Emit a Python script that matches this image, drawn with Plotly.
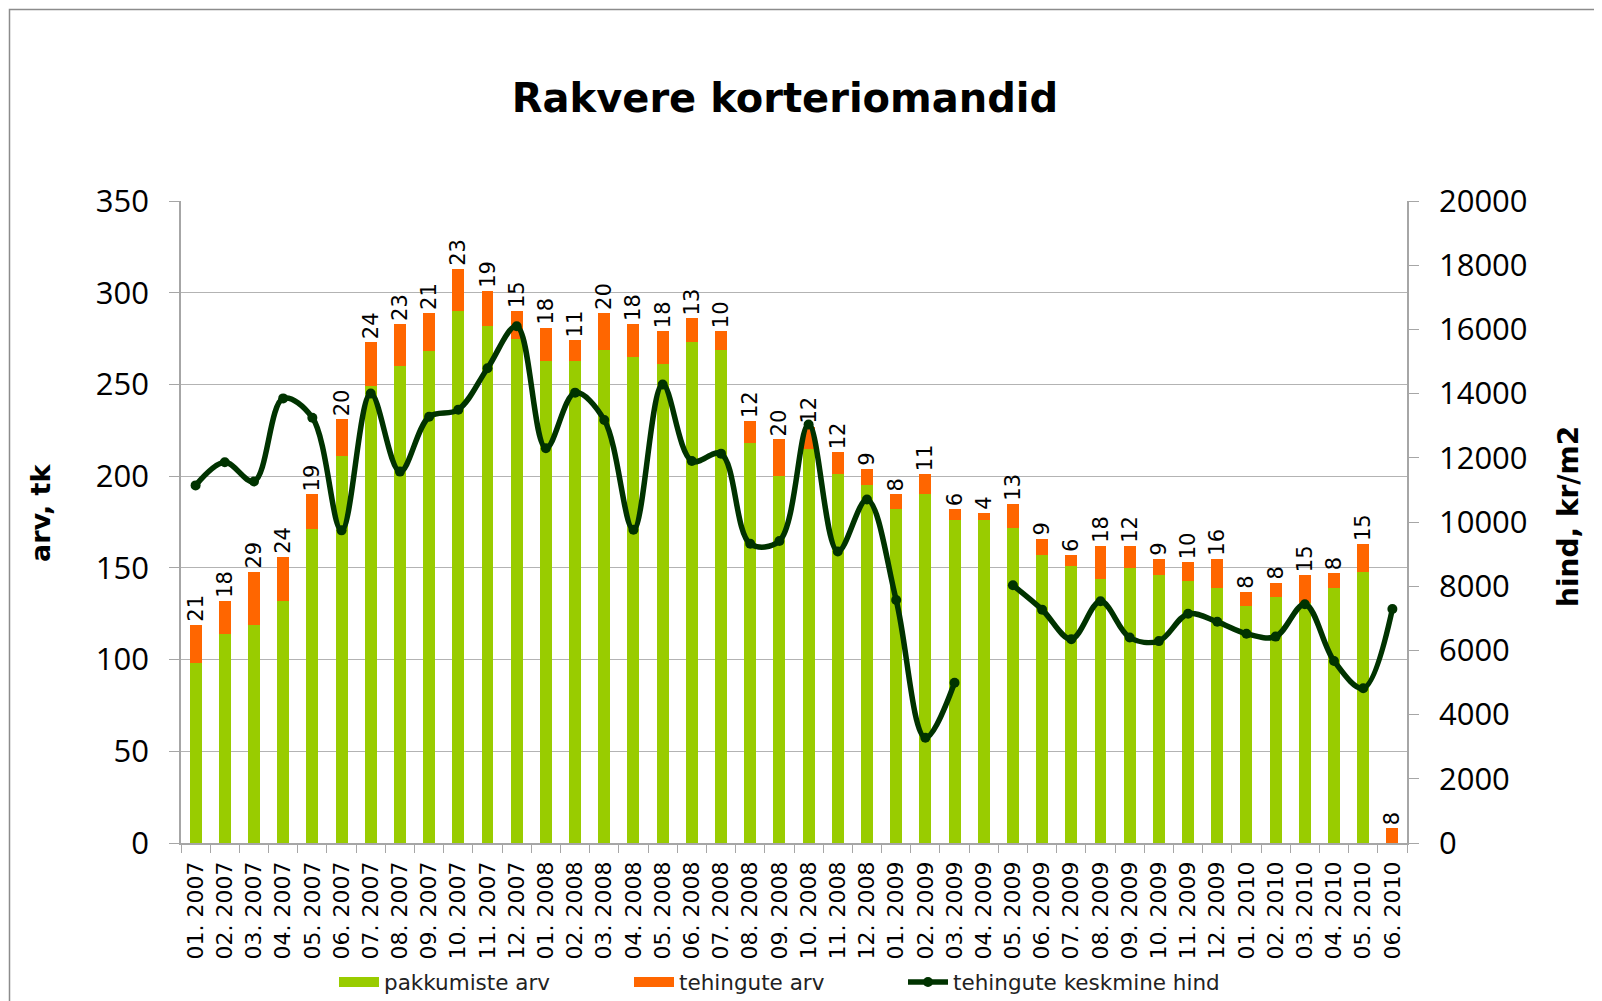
import plotly.graph_objects as go

months = ["01. 2007", "02. 2007", "03. 2007", "04. 2007", "05. 2007", "06. 2007",
          "07. 2007", "08. 2007", "09. 2007", "10. 2007", "11. 2007", "12. 2007",
          "01. 2008", "02. 2008", "03. 2008", "04. 2008", "05. 2008", "06. 2008",
          "07. 2008", "08. 2008", "09. 2008", "10. 2008", "11. 2008", "12. 2008",
          "01. 2009", "02. 2009", "03. 2009", "04. 2009", "05. 2009", "06. 2009",
          "07. 2009", "08. 2009", "09. 2009", "10. 2009", "11. 2009", "12. 2009",
          "01. 2010", "02. 2010", "03. 2010", "04. 2010", "05. 2010", "06. 2010"]

pakkumiste_arv = [98, 114, 119, 132, 171, 211, 249, 260, 268, 290, 282, 275,
                  263, 263, 269, 265, 261, 273, 269, 218, 200, 215, 201, 195,
                  182, 190, 176, 176, 172, 157, 151, 144, 150, 146, 143, 139,
                  129, 134, 131, 139, 148, 0]

tehingute_arv = [21, 18, 29, 24, 19, 20, 24, 23, 21, 23, 19, 15,
                 18, 11, 20, 18, 18, 13, 10, 12, 20, 12, 12, 9,
                 8, 11, 6, 4, 13, 9, 6, 18, 12, 9, 10, 16,
                 8, 8, 15, 8, 15, 8]

keskmine_hind = [11140, 11860, 11260, 13850, 13250, 9740, 14000, 11570, 13280, 13500, 14790, 16100,
                 12300, 14030, 13180, 9760, 14280, 11900, 12130, 9320, 9410, 13040, 9080, 10700,
                 7570, 3280, 4990, None, 8030, 7270, 6350, 7530, 6400, 6290, 7140, 6890,
                 6520, 6430, 7440, 5670, 4820, 7290]

series_names = ["pakkumiste arv", "tehingute arv", "tehingute keskmine hind"]

GREEN = "#99cc00"
ORANGE = "#ff6600"
DARK = "#003300"
GRID = "#b3b3b3"
AXIS = "#a6a6a6"

# the page body adds an 8px offset; figure is sized so it ends at the window edge
OFF = 8
W, H = 1602 - OFF, 1001 - OFF
# plot area in page pixels
PL, PR, PT, PB = 181, 1407, 201, 843
L, T = PL - OFF, PT - OFF
R, B = W - (PR - OFF), H - (PB - OFF)
pw, ph = W - L - R, H - T - B


def px(x):  # page pixel -> paper fraction
    return (x - OFF - L) / pw


def py(y):
    return (H - B - (y - OFF)) / ph


fig = go.Figure()
fig.add_trace(go.Bar(x=months, y=pakkumiste_arv, name=series_names[0], showlegend=False,
                     marker=dict(color=GREEN, line=dict(width=0))))
fig.add_trace(go.Bar(x=months, y=tehingute_arv, name=series_names[1], showlegend=False,
                     marker=dict(color=ORANGE, line=dict(width=0)),
                     text=[str(v) for v in tehingute_arv], textposition="outside",
                     textangle=-90, constraintext="none", cliponaxis=False,
                     textfont=dict(family="DejaVu Sans", size=21, color="black")))
fig.add_trace(go.Scatter(x=months, y=keskmine_hind, name=series_names[2],
                         yaxis="y2", mode="lines+markers", connectgaps=False,
                         legend="legend3",
                         line=dict(color=DARK, width=5.5, shape="spline", smoothing=1.0),
                         marker=dict(color=DARK, size=10)))
# legend keys for the bar series (wide colour blocks like the original)
fig.add_trace(go.Scatter(x=[None], y=[None], name=series_names[0], mode="lines",
                         legend="legend", line=dict(color=GREEN, width=16)))
fig.add_trace(go.Scatter(x=[None], y=[None], name=series_names[1], mode="lines",
                         legend="legend2", line=dict(color=ORANGE, width=16)))

leg_font = dict(family="DejaVu Sans", size=21.5, color="#222222")
leg_y = py(982)

fig.update_layout(
    width=W, height=H,
    margin=dict(l=L, r=R, t=T, b=B, autoexpand=False),
    paper_bgcolor="white", plot_bgcolor="white",
    barmode="stack", bargap=0.59,
    showlegend=True,
    title=dict(text="<b>Rakvere korteriomandid</b>", x=(785 - OFF) / W, xref="container",
               xanchor="center", y=1 - (98 - OFF) / H, yanchor="middle",
               font=dict(family="DejaVu Sans", size=40, color="black")),
    xaxis=dict(type="category", range=[-0.5, 41.5], tickangle=-90, tickson="boundaries",
               ticks="outside", automargin=False,
               ticklen=8, tickcolor=AXIS, showline=True, linecolor=AXIS, linewidth=1.5,
               showgrid=False, ticklabelstandoff=8,
               tickfont=dict(family="DejaVu Sans", size=22, color="black")),
    yaxis=dict(range=[0, 350], dtick=50, ticks="outside", ticklen=10, tickcolor=AXIS,
               automargin=False,
               showline=True, linecolor=AXIS, linewidth=1.5, showgrid=True,
               gridcolor=GRID, gridwidth=1.2, zeroline=False, ticklabelstandoff=14,
               tickfont=dict(family="Open Sans", size=31, color="black")),
    yaxis2=dict(range=[0, 20000], dtick=2000, overlaying="y", side="right",
                tickformat="d", automargin=False,
                ticks="outside", ticklen=10, tickcolor=AXIS, showline=True,
                linecolor=AXIS, linewidth=1.5, showgrid=False, zeroline=False,
                ticklabelstandoff=14,
                tickfont=dict(family="Open Sans", size=31, color="black")),
    legend=dict(orientation="h", x=px(334), xanchor="left", y=leg_y, yanchor="middle",
                font=leg_font, itemwidth=40, bgcolor="rgba(0,0,0,0)"),
    legend2=dict(orientation="h", x=px(629), xanchor="left", y=leg_y, yanchor="middle",
                 font=leg_font, itemwidth=40, bgcolor="rgba(0,0,0,0)"),
    legend3=dict(orientation="h", x=px(903), xanchor="left", y=leg_y, yanchor="middle",
                 font=leg_font, itemwidth=40, bgcolor="rgba(0,0,0,0)"),
    annotations=[
        dict(text="<b>arv, tk</b>", x=px(40), y=py(513), xref="paper", yref="paper",
             textangle=-90, showarrow=False, xanchor="center", yanchor="middle",
             font=dict(family="DejaVu Sans", size=27, color="black")),
        dict(text="<b>hind, kr/m2</b>", x=px(1568), y=py(517), xref="paper", yref="paper",
             textangle=-90, showarrow=False, xanchor="center", yanchor="middle",
             font=dict(family="DejaVu Sans", size=28, color="black")),
    ],
    shapes=[dict(type="rect", xref="paper", yref="paper", x0=px(9.5), x1=px(1640),
                 y0=py(1040), y1=py(9.5), line=dict(color="#8c8c8c", width=1.5),
                 fillcolor="rgba(0,0,0,0)", layer="below")],
)

fig.write_html("out.html")
